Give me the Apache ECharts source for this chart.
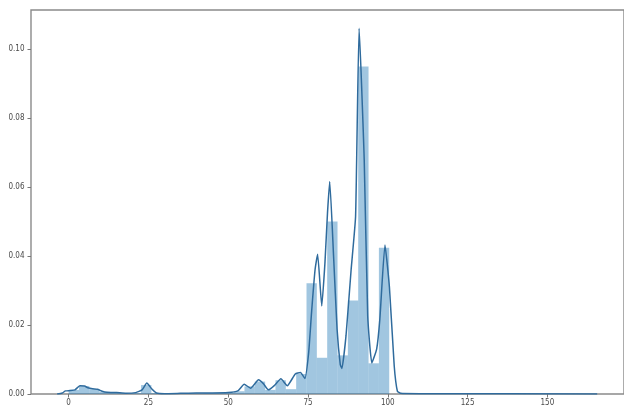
<!DOCTYPE html>
<html>
<head>
<meta charset="utf-8">
<script src="https://cdn.jsdelivr.net/npm/echarts@6/dist/echarts.min.js"></script>
<style>
  html, body { margin: 0; padding: 0; background: #fff; }
  #chart { width: 624px; height: 407px; }
</style>
</head>
<body>
<div id="chart"></div>
<script>
// Histogram: 50 equal-width bins starting at 0 (density per bin)
const binStart = 0;
const binWidth = 3.24;
const binDensity = [
  0.0012, 0.0023, 0.0014, 0.0006, 0.0003, 0.0002, 0.0003, 0.0026, 0.0003, 0.0001,
  0.0001, 0.0002, 0.0002, 0.0003, 0.0003, 0.0003, 0.0008, 0.0022, 0.0036, 0.0012,
  0.0040, 0.0014, 0.0058, 0.0321, 0.0105, 0.0500, 0.0112, 0.0271, 0.0949, 0.0089,
  0.0424, 0, 0, 0, 0, 0, 0, 0, 0, 0,
  0, 0, 0, 0, 0, 0, 0, 0, 0, 0
];

// Kernel density estimate curve
const kdeX = [
  -3.6, -2, -1, 0.5, 2, 3.5, 5, 6, 7.5, 9, 10.5, 12, 15, 18, 21, 23, 24.5, 26, 27.5, 30,
  35, 40, 45, 50, 53, 55, 57, 59.5, 61, 62.6, 64.5, 66.5, 68.5, 71, 72.6, 74,
  75.2, 76.1, 77.2, 78.0, 79.3, 80.3, 81.1, 81.8, 83.0, 84.1, 85.1, 85.6,
  86.9, 88.5, 89.9, 91.0, 92.6, 93.7, 95.0, 96.5, 97.5, 99.1, 100.5, 102, 103, 104, 110, 165.6
];
const kdeY = [
  0, 0.0003, 0.0009, 0.0010, 0.0012, 0.0024, 0.0023, 0.0018, 0.0015, 0.0014, 0.0008, 0.0005, 0.0004, 0.0002, 0.0004, 0.0012, 0.0032, 0.0015, 0.0003, 0.0001,
  0.0002, 0.0003, 0.0003, 0.0004, 0.0009, 0.0028, 0.0017, 0.0041, 0.0030, 0.0012, 0.0025, 0.0044, 0.0024, 0.0058, 0.0062, 0.0045,
  0.0120, 0.0236, 0.0360, 0.0405, 0.0255, 0.0380, 0.0525, 0.0616, 0.0400, 0.0188, 0.0085, 0.0074,
  0.0169, 0.0360, 0.0515, 0.1060, 0.0680, 0.0226, 0.0090, 0.0130, 0.0217, 0.0432, 0.0310, 0.0082, 0.0008, 0.0002, 0.0001, 0
];

const xTicks = [0, 25, 50, 75, 100, 125, 150];
const yTicks = [0, 0.02, 0.04, 0.06, 0.08, 0.10];

const histData = binDensity.map((d, i) => [binStart + i * binWidth, binStart + (i + 1) * binWidth, d]);
const kdeData = kdeX.map((x, i) => [x, kdeY[i]]);

const labelFont = {
  fontFamily: 'DejaVu Sans Condensed, Liberation Sans Narrow, DejaVu Sans',
  fontSize: 8,
  color: '#4a4a4a'
};

const chart = echarts.init(document.getElementById('chart'), null, { renderer: 'canvas' });
chart.setOption({
  animation: false,
  backgroundColor: '#fff',
  grid: {
    left: 31, right: -3.4, top: 10, bottom: 12,
    show: true, borderColor: '#8a8a8a', borderWidth: 1.4, backgroundColor: 'transparent'
  },
  xAxis: {
    type: 'value', min: -11.8, max: 174,
    axisLine: { show: false, onZero: false },
    splitLine: { show: false },
    axisTick: { show: true, length: 3.5, lineStyle: { color: '#777' }, customValues: xTicks },
    axisLabel: Object.assign({ margin: 5, customValues: xTicks, formatter: v => String(v) }, labelFont)
  },
  yAxis: {
    type: 'value', min: 0, max: 0.1113,
    axisLine: { show: false, onZero: false },
    splitLine: { show: false },
    axisTick: { show: true, length: 3.5, lineStyle: { color: '#777' }, customValues: yTicks },
    axisLabel: Object.assign({ margin: 6.5, customValues: yTicks, formatter: v => v.toFixed(2) }, labelFont)
  },
  series: [
    {
      type: 'custom',
      data: histData,
      encode: { x: [0, 1], y: 2 },
      z: 1,
      renderItem: function (params, api) {
        const top = api.coord([api.value(0), api.value(2)]);
        const base = api.coord([api.value(1), 0]);
        return {
          type: 'rect',
          shape: { x: top[0], y: top[1], width: base[0] - top[0], height: base[1] - top[1] },
          style: { fill: 'rgba(31,119,180,0.42)' }
        };
      }
    },
    {
      type: 'line',
      data: kdeData,
      z: 3,
      showSymbol: false,
      smooth: 0.15,
      lineStyle: { color: '#2f6b9d', width: 1.5 }
    }
  ]
});
</script>
</body>
</html>
